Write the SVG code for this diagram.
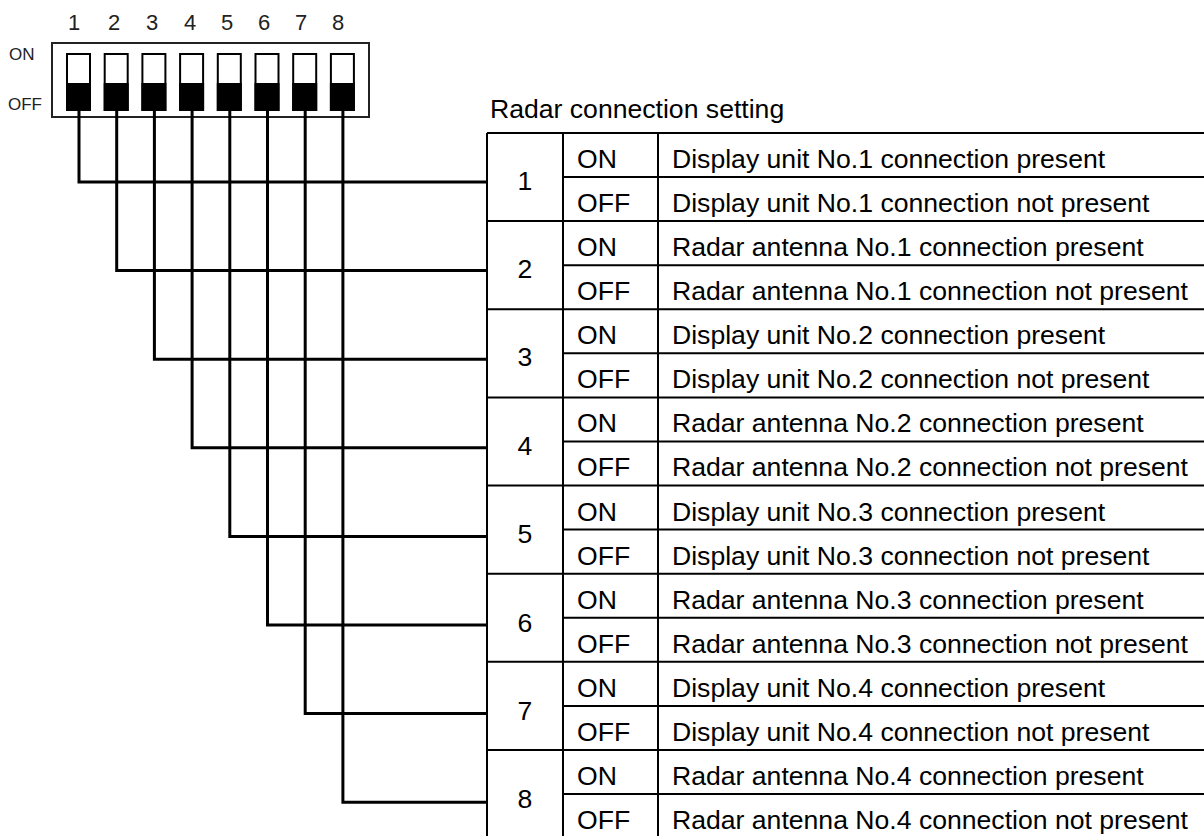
<svg xmlns="http://www.w3.org/2000/svg" width="1204" height="836" viewBox="0 0 1204 836">
<style>
.t{font-family:"Liberation Sans",Arial,sans-serif;font-size:26.6px;fill:#000}
.c{text-anchor:middle}
.dip{font-family:"Liberation Sans",Arial,sans-serif;fill:#222}
.grid{stroke:#000;stroke-width:2;fill:none}
.lead{stroke:#000;stroke-width:3;fill:none;stroke-linejoin:miter}
.slot{fill:#fff;stroke:#000;stroke-width:2}
.knob{fill:#000}
</style>
<rect width="1204" height="836" fill="#fff"/>
<g id="dip-switch">
<rect x="52" y="43" width="317" height="74" fill="#fff" stroke="#222" stroke-width="2"/>
<g class="dip" font-size="22" text-anchor="middle">
<text x="74" y="30">1</text><text x="114" y="30">2</text><text x="152" y="30">3</text><text x="190" y="30">4</text><text x="227" y="30">5</text><text x="264" y="30">6</text><text x="301" y="30">7</text><text x="338" y="30">8</text>
</g>
<text class="dip" x="9" y="60" font-size="17">ON</text>
<text class="dip" x="8" y="110" font-size="17">OFF</text>
<g id="switches">
<rect class="slot" x="67" y="54" width="23" height="56"/><rect class="knob" x="66" y="83" width="25" height="28"/>
<rect class="slot" x="104.7" y="54" width="23" height="56"/><rect class="knob" x="103.7" y="83" width="25" height="28"/>
<rect class="slot" x="142.4" y="54" width="23" height="56"/><rect class="knob" x="141.4" y="83" width="25" height="28"/>
<rect class="slot" x="180.1" y="54" width="23" height="56"/><rect class="knob" x="179.1" y="83" width="25" height="28"/>
<rect class="slot" x="217.8" y="54" width="23" height="56"/><rect class="knob" x="216.8" y="83" width="25" height="28"/>
<rect class="slot" x="255.5" y="54" width="23" height="56"/><rect class="knob" x="254.5" y="83" width="25" height="28"/>
<rect class="slot" x="293.2" y="54" width="23" height="56"/><rect class="knob" x="292.2" y="83" width="25" height="28"/>
<rect class="slot" x="330.9" y="54" width="23" height="56"/><rect class="knob" x="329.9" y="83" width="25" height="28"/>
</g>
</g>
<g id="connectors">
<path class="lead" d="M79 110 V182 H487"/>
<path class="lead" d="M116.7 110 V270.6 H487"/>
<path class="lead" d="M154.4 110 V359.2 H487"/>
<path class="lead" d="M192.1 110 V447.8 H487"/>
<path class="lead" d="M229.8 110 V536.4 H487"/>
<path class="lead" d="M267.5 110 V625 H487"/>
<path class="lead" d="M305.2 110 V713.6 H487"/>
<path class="lead" d="M342.9 110 V802.2 H487"/>
</g>
<text class="t" x="490" y="118">Radar connection setting</text>
<g id="table">
<g class="grid">
<path d="M487 133 V840 M563 133 V840 M658 133 V840"/>
<path d="M487 133 H1204 M487 221.1 H1204 M487 309.3 H1204 M487 397.4 H1204 M487 485.6 H1204 M487 573.7 H1204 M487 661.8 H1204 M487 750 H1204"/>
<path d="M563 177.1 H1204 M563 265.2 H1204 M563 353.3 H1204 M563 441.5 H1204 M563 529.6 H1204 M563 617.8 H1204 M563 705.9 H1204 M563 794 H1204"/>
</g>
</g>
<g id="row1"><text class="t c" x="525" y="190">1</text><text class="t" x="577" y="168">ON</text><text class="t" x="672" y="168">Display unit No.1 connection present</text><text class="t" x="577" y="212">OFF</text><text class="t" x="672" y="212">Display unit No.1 connection not present</text></g>
<g id="row2"><text class="t c" x="525" y="278">2</text><text class="t" x="577" y="256">ON</text><text class="t" x="672" y="256">Radar antenna No.1 connection present</text><text class="t" x="577" y="300">OFF</text><text class="t" x="672" y="300">Radar antenna No.1 connection not present</text></g>
<g id="row3"><text class="t c" x="525" y="366">3</text><text class="t" x="577" y="344">ON</text><text class="t" x="672" y="344">Display unit No.2 connection present</text><text class="t" x="577" y="388">OFF</text><text class="t" x="672" y="388">Display unit No.2 connection not present</text></g>
<g id="row4"><text class="t c" x="525" y="455">4</text><text class="t" x="577" y="432">ON</text><text class="t" x="672" y="432">Radar antenna No.2 connection present</text><text class="t" x="577" y="476">OFF</text><text class="t" x="672" y="476">Radar antenna No.2 connection not present</text></g>
<g id="row5"><text class="t c" x="525" y="543">5</text><text class="t" x="577" y="521">ON</text><text class="t" x="672" y="521">Display unit No.3 connection present</text><text class="t" x="577" y="565">OFF</text><text class="t" x="672" y="565">Display unit No.3 connection not present</text></g>
<g id="row6"><text class="t c" x="525" y="632">6</text><text class="t" x="577" y="609">ON</text><text class="t" x="672" y="609">Radar antenna No.3 connection present</text><text class="t" x="577" y="653">OFF</text><text class="t" x="672" y="653">Radar antenna No.3 connection not present</text></g>
<g id="row7"><text class="t c" x="525" y="720">7</text><text class="t" x="577" y="697">ON</text><text class="t" x="672" y="697">Display unit No.4 connection present</text><text class="t" x="577" y="741">OFF</text><text class="t" x="672" y="741">Display unit No.4 connection not present</text></g>
<g id="row8"><text class="t c" x="525" y="808">8</text><text class="t" x="577" y="785">ON</text><text class="t" x="672" y="785">Radar antenna No.4 connection present</text><text class="t" x="577" y="829">OFF</text><text class="t" x="672" y="829">Radar antenna No.4 connection not present</text></g>
</svg>
